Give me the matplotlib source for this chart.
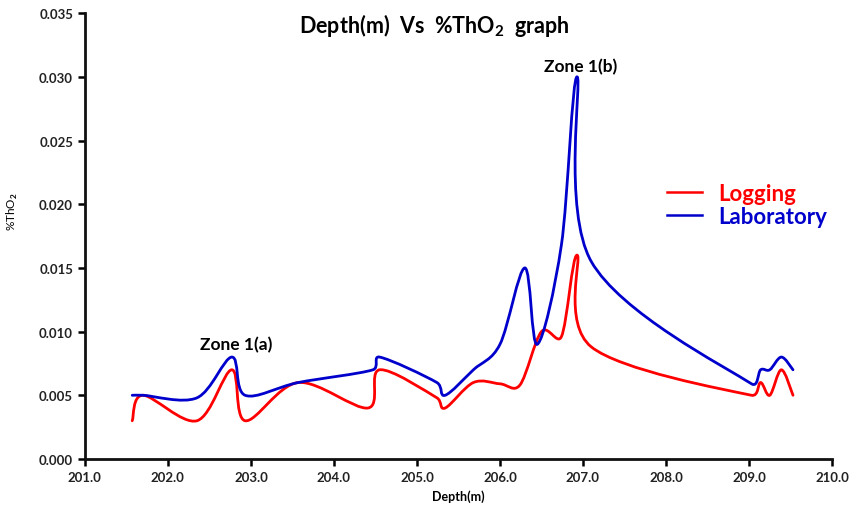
import numpy as np
import matplotlib
matplotlib.use('Agg')
import matplotlib.pyplot as plt
from matplotlib.path import Path
from matplotlib.patches import PathPatch
from matplotlib.lines import Line2D

plt.rcParams['font.family'] = ['Lato', 'DejaVu Sans']
plt.rcParams['mathtext.fontset'] = 'custom'
plt.rcParams['mathtext.rm'] = 'Lato'
plt.rcParams['mathtext.bf'] = 'Lato:bold'

# depth (m) and %ThO2 readings
log_depth = [201.57, 201.70, 202.35, 202.77, 202.93, 203.57, 204.41, 204.55,
             205.24, 205.34, 205.68, 206.00, 206.24, 206.50, 206.74, 206.93,
             207.10, 209.03, 209.14, 209.25, 209.39, 209.53]
log_tho2 = [0.0030, 0.0050, 0.0030, 0.0070, 0.0030, 0.0060, 0.0040, 0.0070,
            0.0048, 0.0040, 0.0060, 0.0059, 0.0058, 0.0100, 0.0096, 0.0160,
            0.0088, 0.0050, 0.0060, 0.0050, 0.0070, 0.0050]

lab_depth = [201.57, 201.70, 202.35, 202.77, 202.93, 203.57, 204.47, 204.55,
             205.24, 205.34, 205.68, 206.00, 206.30, 206.45, 206.74, 206.93,
             207.10, 209.03, 209.14, 209.25, 209.39, 209.53]
lab_tho2 = [0.0050, 0.0050, 0.0048, 0.0080, 0.0050, 0.0060, 0.0070, 0.0080,
            0.0060, 0.0050, 0.0070, 0.0090, 0.0150, 0.0090, 0.0168, 0.0300,
            0.0155, 0.0059, 0.0070, 0.0070, 0.0080, 0.0070]

RED = '#ff0000'
BLUE = '#0000cc'


def smooth_path(ax, xs, ys):
    # bezier smoothing done in screen space, control arms capped at half the segment
    pts = ax.transData.transform(np.column_stack([xs, ys]))
    n = len(pts)
    verts = [pts[0]]
    codes = [Path.MOVETO]
    for i in range(n - 1):
        p0 = pts[max(i - 1, 0)]
        p1 = pts[i]
        p2 = pts[i + 1]
        p3 = pts[min(i + 2, n - 1)]
        half = np.hypot(*(p2 - p1)) / 2
        a1 = (p2 - p0) / 6
        a2 = (p3 - p1) / 6
        l1 = np.hypot(*a1)
        l2 = np.hypot(*a2)
        if l1 > half:
            a1 = a1 * half / l1
        if l2 > half:
            a2 = a2 * half / l2
        verts += [p1 + a1, p2 - a2, p2]
        codes += [Path.CURVE4] * 3
    verts = ax.transData.inverted().transform(np.array(verts))
    return Path(verts, codes)


fig = plt.figure(figsize=(8.49, 5.06), dpi=100)
ax = fig.add_axes([0.100, 0.091, 0.880, 0.881])
ax.set_xlim(201.0, 210.0)
ax.set_ylim(0.0, 0.035)

ax.add_patch(PathPatch(smooth_path(ax, log_depth, log_tho2), fill=False,
                       edgecolor=RED, lw=2.0, capstyle='round', joinstyle='round'))
ax.add_patch(PathPatch(smooth_path(ax, lab_depth, lab_tho2), fill=False,
                       edgecolor=BLUE, lw=2.0, capstyle='round', joinstyle='round'))

ax.set_xticks(np.arange(201.0, 210.01, 1.0))
ax.set_yticks(np.arange(0.0, 0.0351, 0.005))
ax.xaxis.set_major_formatter('{x:.1f}')
ax.yaxis.set_major_formatter('{x:.3f}')
ax.tick_params(direction='out', length=5, width=1.8, labelsize=9.5,
               labelcolor='#222222')
for lab in ax.get_xticklabels() + ax.get_yticklabels():
    lab.set_fontweight('bold')

for side in ('top', 'right'):
    ax.spines[side].set_visible(False)
for side in ('left', 'bottom'):
    ax.spines[side].set_linewidth(2)
    ax.spines[side].set_color('#111111')

ax.set_xlabel('Depth(m)', fontsize=9, fontweight='bold', labelpad=5)
ax.set_ylabel(r'%ThO$_\mathbf{2}$', fontsize=8.5, fontweight='normal')
ax.yaxis.set_label_coords(-0.087, 0.556)

fig.text(0.512, 0.950, r'Depth(m)  Vs  %ThO$_\mathbf{2}$  graph', fontsize=15.5,
         fontweight='bold', ha='center', va='center')

ax.text(202.82, 0.0084, 'Zone 1(a)', fontsize=12.5, fontweight='bold',
        ha='center', va='bottom')
ax.text(206.97, 0.0302, 'Zone 1(b)', fontsize=12.5, fontweight='bold',
        ha='center', va='bottom')

handles = [Line2D([], [], color=RED, lw=1.8), Line2D([], [], color=BLUE, lw=1.8)]
leg = ax.legend(handles, ['Logging', 'Laboratory'], loc='upper left',
                bbox_to_anchor=(0.752, 0.665), frameon=False,
                prop={'size': 16, 'weight': 'bold'}, handlelength=1.6,
                handletextpad=0.7, labelspacing=0.1)
for txt, c in zip(leg.get_texts(), (RED, BLUE)):
    txt.set_color(c)

fig.savefig('out.png', dpi=100)
